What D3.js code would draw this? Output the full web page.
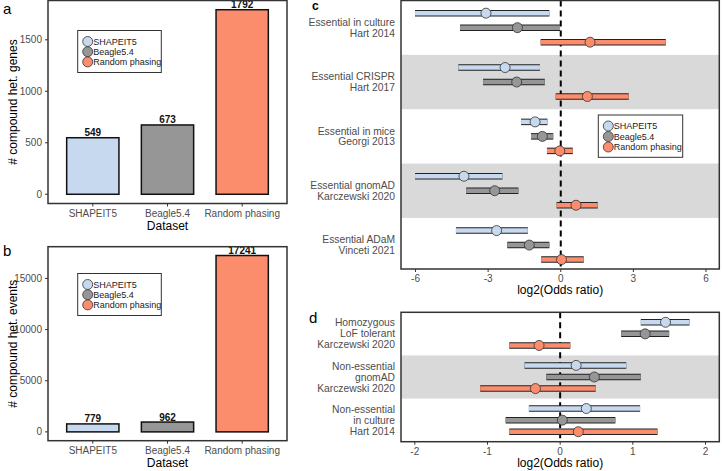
<!DOCTYPE html>
<html>
<head>
<meta charset="utf-8">
<script src="https://cdn.jsdelivr.net/npm/d3@7"></script>
<style>
  body { margin: 0; background: #fff; }
  svg { display: block; font-family: 'Liberation Sans', Arial, sans-serif; }
</style>
</head>
<body>
<div id="chart"></div>
<script>
let width = 722
let height = 471

// data
let methods = ['SHAPEIT5', 'Beagle5.4', 'Random phasing']
let methodColors = ['#c6d9ef', '#969696', '#fc8d6c']

let geneCounts = [549, 673, 1792]
let eventCounts = [779, 962, 17241]

let genesTicks = [0, 500, 1000, 1500]
let eventsTicks = [0, 5000, 10000, 15000]

// panel c : essential gene sets, [low, estimate, high] per set
let essentialLabels = [
  ['Essential in culture', 'Hart 2014'],
  ['Essential CRISPR', 'Hart 2017'],
  ['Essential in mice', 'Georgi 2013'],
  ['Essential gnomAD', 'Karczewski 2020'],
  ['Essential ADaM', 'Vinceti 2021']
]
let essentialShapeit = [[-6.02, -3.09, -0.47], [-4.23, -2.30, -0.86], [-1.64, -1.06, -0.55], [-6.02, -4.00, -2.41], [-4.33, -2.65, -1.36]]
let essentialBeagle = [[-4.16, -1.79, -0.03], [-3.21, -1.82, -0.66], [-1.23, -0.76, -0.31], [-3.91, -2.73, -1.75], [-2.21, -1.30, -0.47]]
let essentialRandom = [[-0.83, 1.21, 4.34], [-0.21, 1.10, 2.81], [-0.57, -0.04, 0.50], [-0.17, 0.63, 1.53], [-0.81, 0.03, 0.95]]
let essentialTicks = [-6, -3, 0, 3, 6]

// panel d : non-essential gene sets
let nonEssentialLabels = [
  ['Homozygous', 'LoF tolerant', 'Karczewski 2020'],
  ['Non-essential', 'gnomAD', 'Karczewski 2020'],
  ['Non-essential', 'in culture', 'Hart 2014']
]
let nonEssentialShapeit = [[1.11, 1.45, 1.78], [-0.49, 0.22, 0.91], [-0.43, 0.36, 1.10]]
let nonEssentialBeagle = [[0.84, 1.17, 1.50], [-0.19, 0.47, 1.11], [-0.75, 0.03, 0.76]]
let nonEssentialRandom = [[-0.70, -0.29, 0.14], [-1.10, -0.34, 0.49], [-0.70, 0.25, 1.34]]
let nonEssentialTicks = [-2, -1, 0, 1, 2]

let svg = d3
  .select('#chart')
  .append('svg')
  .attr('width', width)
  .attr('height', height)

let tickColor = '#4d4d4d'
let frameColor = '#333'
let tickSize = 10
let titleSize = 12

function legend(g, x, y, w, h, step) {
  let lg = g.append('g').attr('transform', `translate(${x},${y})`)
  lg.append('rect')
    .attr('width', w)
    .attr('height', h)
    .attr('fill', '#fff')
    .attr('stroke', frameColor)
    .attr('stroke-width', 1)
  methods.forEach((m, i) => {
    lg.append('circle')
      .attr('cx', 10)
      .attr('cy', 11 + i * step)
      .attr('r', 5)
      .attr('fill', methodColors[i])
      .attr('stroke', frameColor)
      .attr('stroke-width', 0.8)
    lg.append('text')
      .attr('x', 15.5)
      .attr('y', 11 + i * step)
      .attr('dy', '0.35em')
      .attr('font-size', 9)
      .attr('fill', '#222')
      .text(m)
  })
}

function barPanel(counts, ticks, top, bottom, yTitle, letter, letterY, legendY) {
  let left = 48
  let right = 287
  let g = svg.append('g')

  let x = d3.scaleBand()
    .domain(methods)
    .range([left, right])
    .paddingInner(0.3)
    .paddingOuter(0.25)

  let maxVal = d3.max(counts)
  let y = d3.scaleLinear()
    .domain([-0.05 * maxVal, maxVal * 1.05])
    .range([bottom, top])

  g.selectAll('.bar')
    .data(counts)
    .enter()
    .append('rect')
    .attr('class', 'bar')
    .attr('x', (d, i) => x(methods[i]))
    .attr('width', x.bandwidth())
    .attr('y', d => y(d))
    .attr('height', d => y(0) - y(d))
    .attr('fill', (d, i) => methodColors[i])
    .attr('stroke', '#111')
    .attr('stroke-width', 1.5)

  g.selectAll('.bar-label')
    .data(counts)
    .enter()
    .append('text')
    .attr('x', (d, i) => x(methods[i]) + x.bandwidth() / 2)
    .attr('y', d => y(d) - 1.5)
    .attr('text-anchor', 'middle')
    .attr('font-size', 10)
    .attr('font-weight', 'bold')
    .attr('fill', '#111')
    .text(d => d)

  // y axis
  ticks.forEach(t => {
    g.append('line')
      .attr('x1', left - 3).attr('x2', left)
      .attr('y1', y(t)).attr('y2', y(t))
      .attr('stroke', frameColor)
    g.append('text')
      .attr('x', left - 6)
      .attr('y', y(t))
      .attr('dy', '0.35em')
      .attr('text-anchor', 'end')
      .attr('font-size', tickSize)
      .attr('fill', tickColor)
      .text(t)
  })

  // x axis
  methods.forEach(m => {
    let cx = x(m) + x.bandwidth() / 2
    g.append('line')
      .attr('x1', cx).attr('x2', cx)
      .attr('y1', bottom).attr('y2', bottom + 3)
      .attr('stroke', frameColor)
    g.append('text')
      .attr('x', cx)
      .attr('y', bottom + 13)
      .attr('text-anchor', 'middle')
      .attr('font-size', tickSize)
      .attr('fill', tickColor)
      .text(m)
  })

  g.append('text')
    .attr('x', (left + right) / 2)
    .attr('y', bottom + 26)
    .attr('text-anchor', 'middle')
    .attr('font-size', titleSize)
    .text('Dataset')

  g.append('text')
    .attr('transform', `translate(17,${(top + bottom) / 2}) rotate(-90)`)
    .attr('text-anchor', 'middle')
    .attr('font-size', titleSize)
    .text(yTitle)

  g.append('rect')
    .attr('x', left).attr('y', top)
    .attr('width', right - left).attr('height', bottom - top)
    .attr('fill', 'none')
    .attr('stroke', frameColor)
    .attr('stroke-width', 1.5)

  g.append('text')
    .attr('x', 3)
    .attr('y', letterY)
    .attr('font-size', 15)
    .text(letter)

  legend(g, 77.7, legendY, 83.6, 42, 10.2)
}

barPanel(geneCounts, genesTicks, 0.5, 203.5, '# compound het. genes', 'a', 13.5, 30.5)
barPanel(eventCounts, eventsTicks, 246.7, 440.7, '# compound het. events', 'b', 256, 273.5)

function forestPanel(labels, series, ticks, xDomain, top, bottom, yDomain, rowGap, lineGap, letter, letterX, letterY, letterSize, letterWeight) {
  let left = 401
  let right = 719.3
  let g = svg.append('g')

  let x = d3.scaleLinear().domain(xDomain).range([left, right])
  let y = d3.scaleLinear().domain(yDomain).range([top, bottom])

  // shaded bands on every second group
  labels.forEach((l, i) => {
    if (i % 2 === 1) {
      g.append('rect')
        .attr('x', left)
        .attr('width', right - left)
        .attr('y', y(i - 0.5))
        .attr('height', y(i + 0.5) - y(i - 0.5))
        .attr('fill', '#d9d9d9')
    }
  })

  g.append('line')
    .attr('x1', x(0)).attr('x2', x(0))
    .attr('y1', top).attr('y2', bottom)
    .attr('stroke', '#000')
    .attr('stroke-width', 2)
    .attr('stroke-dasharray', '6,4')

  series.forEach((s, m) => {
    s.forEach((d, i) => {
      let cy = y(i) + (m - 1) * rowGap
      g.append('line')
        .attr('x1', x(d[0])).attr('x2', x(d[2]))
        .attr('y1', cy).attr('y2', cy)
        .attr('stroke', '#222')
        .attr('stroke-width', 6.5)
      g.append('line')
        .attr('x1', x(d[0])).attr('x2', x(d[2]))
        .attr('y1', cy).attr('y2', cy)
        .attr('stroke', methodColors[m])
        .attr('stroke-width', 4.5)
      g.append('circle')
        .attr('cx', x(d[1]))
        .attr('cy', cy)
        .attr('r', 5)
        .attr('fill', methodColors[m])
        .attr('stroke', frameColor)
        .attr('stroke-width', 0.8)
    })
  })

  // group labels
  labels.forEach((l, i) => {
    let t = g.append('text')
      .attr('x', left - 6)
      .attr('text-anchor', 'end')
      .attr('font-size', 10.3)
      .attr('fill', tickColor)
    l.forEach((line, k) => {
      t.append('tspan')
        .attr('x', left - 6)
        .attr('y', y(i) + (k - (l.length - 1) / 2) * lineGap)
        .attr('dy', '0.35em')
        .text(line)
    })
  })

  ticks.forEach(t => {
    g.append('line')
      .attr('x1', x(t)).attr('x2', x(t))
      .attr('y1', bottom).attr('y2', bottom + 3)
      .attr('stroke', frameColor)
    g.append('text')
      .attr('x', x(t))
      .attr('y', bottom + 13)
      .attr('text-anchor', 'middle')
      .attr('font-size', tickSize)
      .attr('fill', tickColor)
      .text(t)
  })

  g.append('text')
    .attr('x', (left + right) / 2)
    .attr('y', bottom + 25)
    .attr('text-anchor', 'middle')
    .attr('font-size', titleSize)
    .text('log2(Odds ratio)')

  g.append('rect')
    .attr('x', left).attr('y', top)
    .attr('width', right - left).attr('height', bottom - top)
    .attr('fill', 'none')
    .attr('stroke', frameColor)
    .attr('stroke-width', 1.5)

  g.append('text')
    .attr('x', letterX)
    .attr('y', letterY)
    .attr('font-size', letterSize)
    .attr('font-weight', letterWeight)
    .text(letter)

  return g
}

let gc = forestPanel(
  essentialLabels,
  [essentialShapeit, essentialBeagle, essentialRandom],
  essentialTicks, [-6.6, 6.55],
  0.5, 269, [-0.5, 4.44], 14.5, 10.7,
  'c', 312, 10, 12, 'bold'
)
legend(gc, 598.3, 115, 84.4, 42.3, 10.5)

forestPanel(
  nonEssentialLabels,
  [nonEssentialShapeit, nonEssentialBeagle, nonEssentialRandom],
  nonEssentialTicks, [-2.19, 2.19],
  312.3, 441.7, [-0.5, 2.5], 11.6, 11,
  'd', 309, 323, 15, 'normal'
)
</script>
</body>
</html>
